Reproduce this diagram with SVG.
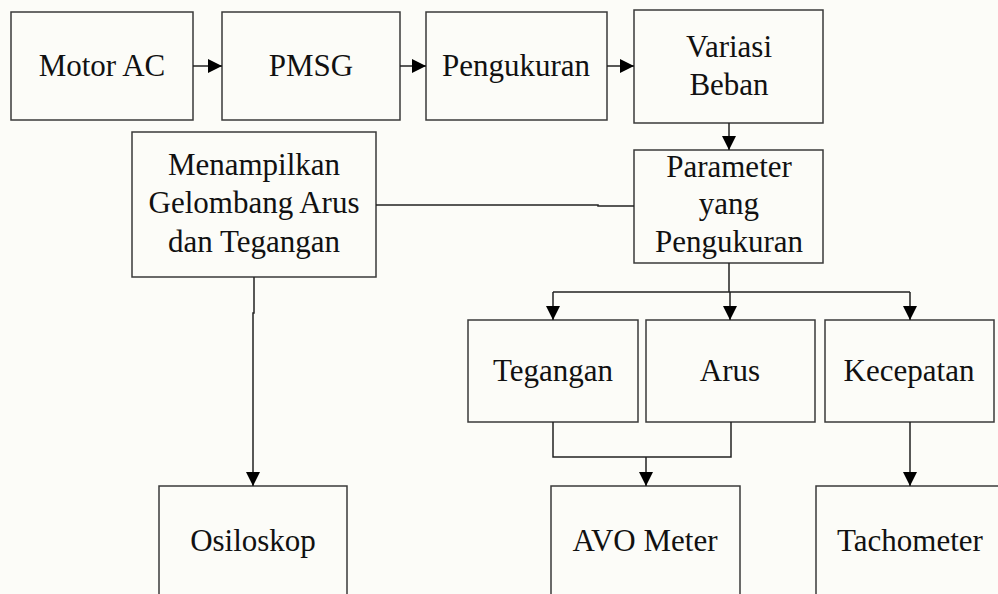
<svg xmlns="http://www.w3.org/2000/svg" width="998" height="594" viewBox="0 0 998 594">
<style>
.box{fill:none;stroke:#3a3a3a;stroke-width:1.5}
.t{font-family:"Liberation Serif","Times New Roman",serif;font-size:31px;fill:#111;text-anchor:middle}
.c{fill:none;stroke:#222;stroke-width:1.5}
</style>
<defs>
<marker id="ah" markerWidth="14" markerHeight="14" refX="14" refY="7" orient="auto" markerUnits="userSpaceOnUse">
<path d="M0,0 L14,7 L0,14 Z" fill="#000"/>
</marker>
</defs>
<rect x="0" y="0" width="998" height="594" fill="#fcfcf8"/>
<g id="motor-ac"><rect class="box" x="11" y="12" width="182" height="108"/><text class="t" x="102" y="76">Motor AC</text></g>
<g id="pmsg"><rect class="box" x="222" y="12" width="178" height="108"/><text class="t" x="311" y="76">PMSG</text></g>
<g id="pengukuran"><rect class="box" x="426" y="12" width="181" height="108"/><text class="t" x="516" y="76">Pengukuran</text></g>
<g id="variasi-beban"><rect class="box" x="634" y="10" width="189" height="113"/><text class="t" x="729" y="57">Variasi</text><text class="t" x="729" y="95">Beban</text></g>
<g id="parameter"><rect class="box" x="634" y="150" width="189" height="113"/><text class="t" x="729" y="177">Parameter</text><text class="t" x="729" y="214">yang</text><text class="t" x="729" y="252">Pengukuran</text></g>
<g id="menampilkan"><rect class="box" x="132" y="132" width="244" height="145"/><text class="t" x="254" y="175">Menampilkan</text><text class="t" x="254" y="213">Gelombang Arus</text><text class="t" x="254" y="252">dan Tegangan</text></g>
<g id="tegangan"><rect class="box" x="468" y="320" width="170" height="102"/><text class="t" x="553" y="381">Tegangan</text></g>
<g id="arus"><rect class="box" x="646" y="320" width="169" height="102"/><text class="t" x="730" y="381">Arus</text></g>
<g id="kecepatan"><rect class="box" x="825" y="320" width="169" height="102"/><text class="t" x="909" y="381">Kecepatan</text></g>
<g id="osiloskop"><rect class="box" x="159" y="486" width="188" height="130"/><text class="t" x="253" y="551">Osiloskop</text></g>
<g id="avo-meter"><rect class="box" x="551" y="486" width="189" height="130"/><text class="t" x="645" y="551">AVO Meter</text></g>
<g id="tachometer"><rect class="box" x="816" y="486" width="189" height="130"/><text class="t" x="910" y="551">Tachometer</text></g>
<g id="connectors">
<line class="c" x1="193" y1="66" x2="222" y2="66" marker-end="url(#ah)"/>
<line class="c" x1="400" y1="66" x2="426" y2="66" marker-end="url(#ah)"/>
<line class="c" x1="607" y1="66" x2="634" y2="66" marker-end="url(#ah)"/>
<line class="c" x1="729" y1="123" x2="729" y2="150" marker-end="url(#ah)"/>
<polyline class="c" points="376,205 598,205 598,206 634,206"/>
<line class="c" x1="729" y1="263" x2="729" y2="292"/>
<line class="c" x1="553" y1="292" x2="910" y2="292"/>
<polyline class="c" points="553,292 553,320" marker-end="url(#ah)"/>
<line class="c" x1="730" y1="292" x2="730" y2="320" marker-end="url(#ah)"/>
<polyline class="c" points="910,292 910,320" marker-end="url(#ah)"/>
<polyline class="c" points="553,422 553,457 731,457 731,422"/>
<line class="c" x1="646" y1="457" x2="646" y2="486" marker-end="url(#ah)"/>
<line class="c" x1="910" y1="422" x2="910" y2="486" marker-end="url(#ah)"/>
<polyline class="c" points="254,277 254,313 253,313 253,486" marker-end="url(#ah)"/>
</g>
</svg>
